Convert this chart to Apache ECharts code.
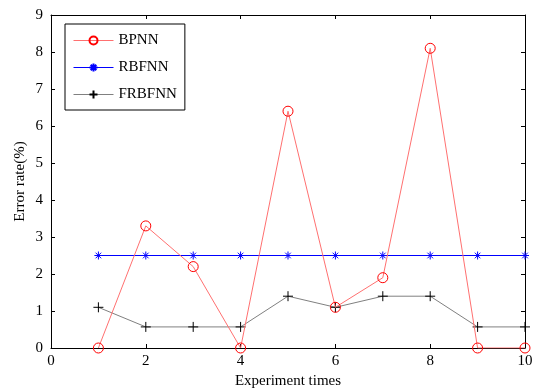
<!DOCTYPE html>
<html>
<head>
<meta charset="utf-8">
<script src="https://cdn.jsdelivr.net/npm/echarts@6/dist/echarts.min.js"></script>
<style>
  html, body { margin: 0; padding: 0; background: #fff; }
  #chart { width: 533px; height: 390px; }
</style>
</head>
<body>
<div id="chart"></div>
<script>
// experiment index and error rates (%)
const runs = [1, 2, 3, 4, 5, 6, 7, 8, 9, 10];
const bpnn = [0, 3.3, 2.2, 0, 6.4, 1.1, 1.9, 8.1, 0, 0];
const rbfnn = [2.5, 2.5, 2.5, 2.5, 2.5, 2.5, 2.5, 2.5, 2.5, 2.5];
const frbfnn = [1.1, 0.57, 0.57, 0.57, 1.4, 1.1, 1.4, 1.4, 0.57, 0.57];

const font = 'Liberation Serif';
const pair = vals => runs.map((r, i) => [r, vals[i]]);

const chart = echarts.init(document.getElementById('chart'));

// box-style axes: ticks inside on all four sides
const boxAxis = (extra) => Object.assign({
  type: 'value',
  axisLine: { show: true, onZero: false, lineStyle: { color: '#000', width: 1 } },
  axisTick: { show: true, inside: true, length: 4, lineStyle: { color: '#000' } },
  splitLine: { show: false },
  axisLabel: { show: false }
}, extra);

const option = {
  backgroundColor: '#fff',
  animation: false,
  grid: { left: 51, right: 8, top: 15, bottom: 42, outerBoundsMode: 'none' },
  xAxis: [
    boxAxis({
      min: 0, max: 10, interval: 2, position: 'bottom',
      name: 'Experiment times', nameLocation: 'middle', nameGap: 25,
      nameTextStyle: { fontFamily: font, fontSize: 15, color: '#000' },
      axisLabel: { show: true, fontFamily: font, fontSize: 15, color: '#000', margin: 6 }
    }),
    boxAxis({ min: 0, max: 10, interval: 2, position: 'top' })
  ],
  yAxis: [
    boxAxis({
      min: 0, max: 9, interval: 1, position: 'left',
      name: 'Error rate(%)', nameLocation: 'middle', nameGap: 23, nameMoveOverlap: false,
      nameTextStyle: { fontFamily: font, fontSize: 15, color: '#000' },
      axisLabel: { show: true, fontFamily: font, fontSize: 15, color: '#000', margin: 8 }
    }),
    boxAxis({ min: 0, max: 9, interval: 1, position: 'right' })
  ],
  legend: {
    orient: 'vertical',
    left: 65, top: 24,
    width: 125,
    padding: [9, 8, 8, 8],
    itemGap: 12,
    itemWidth: 40, itemHeight: 10,
    backgroundColor: '#fff',
    borderColor: '#000', borderWidth: 1, borderRadius: 0,
    textStyle: { fontFamily: font, fontSize: 15, color: '#000' },
    data: [
      { name: 'BPNN', lineStyle: { color: '#ff7070', width: 1 } },
      { name: 'RBFNN', lineStyle: { color: '#0000ff', width: 1 } },
      { name: 'FRBFNN', lineStyle: { color: '#808080', width: 1 } }
    ]
  },
  series: [
    {
      name: 'BPNN', type: 'line', data: pair(bpnn),
      symbol: 'circle', symbolSize: 10,
      lineStyle: { color: '#ff7070', width: 1 },
      itemStyle: { color: 'rgba(255,255,255,0)', borderColor: '#ff0000', borderWidth: 1 },
      z: 4
    },
    {
      name: 'RBFNN', type: 'line', data: pair(rbfnn),
      symbol: 'path://M5,0L5,10M0,5L10,5M1.5,1.5L8.5,8.5M8.5,1.5L1.5,8.5',
      symbolSize: 8,
      lineStyle: { color: '#0000ff', width: 1 },
      itemStyle: { color: '#0000ff', borderColor: '#0000ff', borderWidth: 1 },
      z: 3
    },
    {
      name: 'FRBFNN', type: 'line', data: pair(frbfnn),
      symbol: 'path://M5,0L5,10M0,5L10,5',
      symbolSize: 10,
      lineStyle: { color: '#808080', width: 1 },
      itemStyle: { color: '#000', borderColor: '#000', borderWidth: 1 },
      z: 2
    }
  ]
};

chart.setOption(option);
</script>
</body>
</html>
